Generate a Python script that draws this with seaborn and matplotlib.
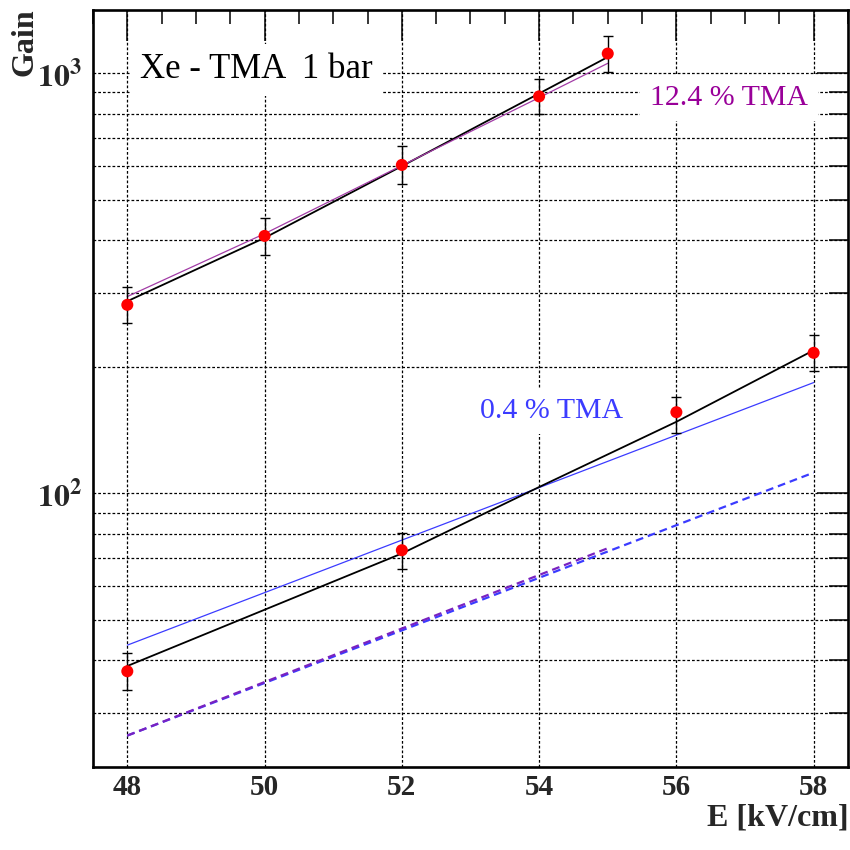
import numpy as np
import pandas as pd
import matplotlib
matplotlib.use("Agg")
import matplotlib.pyplot as plt
from matplotlib.ticker import FuncFormatter, LogLocator, MultipleLocator, NullFormatter
import seaborn as sns

# measured gain points, 12.4 % TMA
E_124 = [48, 50, 52, 54, 55]
GAIN_124 = [281, 410, 605, 881, 1114]
GAIN_124_LO = [254, 370, 546, 798, 1005]
GAIN_124_HI = [310, 452, 670, 971, 1225]

# measured gain points, 0.4 % TMA
E_04 = [48, 52, 56, 58]
GAIN_04 = [37.7, 73.2, 156, 216]
GAIN_04_LO = [34.0, 66.0, 139, 195]
GAIN_04_HI = [41.6, 80.5, 170, 238]

# fit / calculation curves, sampled off the figure
FIT_124_E = [48, 50, 52, 54, 55]
FIT_124_BLACK = [286.6, 405.6, 601, 895, 1093]
FIT_124_MAGENTA = [294, 415, 603, 875, 1056]
FIT_04_BLACK_E = [48, 52, 54, 56, 58]
FIT_04_BLACK = [38.8, 71.9, 103.5, 148, 219]
FIT_04_BLUE_E = [48, 58]
FIT_04_BLUE = [43.5, 183.5]
DASH_BLUE_E = [48, 58]
DASH_BLUE = [26.5, 112]
DASH_PURPLE_E = [48, 55]
DASH_PURPLE = [26.5, 74]

MAGENTA = "#a23ca6"
BLUE = "#3b3bff"
PURPLE = "#7a22c0"

sns.set_theme(style="white")
plt.rcParams["font.family"] = ["Liberation Serif", "DejaVu Serif"]
plt.rcParams["mathtext.fontset"] = "stix"

fig, ax = plt.subplots(figsize=(8.5, 8.5), dpi=100)
fig.subplots_adjust(left=0.1094, right=0.9976, bottom=0.0976, top=0.988)


def line(xs, ys, color, lw, dashes=None):
    df = pd.DataFrame({"E": xs, "gain": ys})
    sns.lineplot(data=df, x="E", y="gain", color=color, lw=lw,
                 estimator=None, sort=False, ax=ax, zorder=3)
    ln = ax.lines[-1]
    if dashes is not None:
        ln.set_dashes(dashes)
    return ln


line(DASH_BLUE_E, DASH_BLUE, BLUE, 1.6, dashes=(3.5, 2.2))
line(DASH_PURPLE_E, DASH_PURPLE, PURPLE, 1.6, dashes=(3.5, 2.2))
line(FIT_04_BLUE_E, FIT_04_BLUE, BLUE, 0.9)
line(FIT_04_BLACK_E, FIT_04_BLACK, "black", 1.3)
line(FIT_124_E, FIT_124_BLACK, "black", 1.3)
line(FIT_124_E, FIT_124_MAGENTA, MAGENTA, 0.9)

# data points with error bars
pts = pd.DataFrame({
    "E": E_124 + E_04,
    "gain": GAIN_124 + GAIN_04,
    "lo": GAIN_124_LO + GAIN_04_LO,
    "hi": GAIN_124_HI + GAIN_04_HI,
})
ax.errorbar(pts["E"], pts["gain"],
            yerr=[pts["gain"] - pts["lo"], pts["hi"] - pts["gain"]],
            fmt="none", ecolor="black", elinewidth=1.0, capsize=3.6,
            capthick=1.0, zorder=4)
sns.scatterplot(data=pts, x="E", y="gain", color="red", s=75,
                edgecolor="none", ax=ax, zorder=5)

ax.set_yscale("log")
ax.set_xlim(47.5, 58.5)
ax.set_ylim(22.3, 1413)

ax.xaxis.set_major_locator(MultipleLocator(2))
ax.xaxis.set_minor_locator(MultipleLocator(0.5))
ax.yaxis.set_major_locator(LogLocator(base=10))
ax.yaxis.set_minor_locator(LogLocator(base=10, subs=np.arange(2, 10)))
ax.yaxis.set_minor_formatter(NullFormatter())
ax.yaxis.set_major_formatter(
    FuncFormatter(lambda v, _: r"$\mathbf{10^{%d}}$" % round(np.log10(v))))

ax.grid(True, which="major", axis="x", linestyle=(0, (2.2, 1.6)),
        color="black", lw=0.9)
ax.grid(True, which="both", axis="y", linestyle=(0, (2.2, 1.6)),
        color="black", lw=0.9)
ax.set_axisbelow(True)

ax.tick_params(which="both", direction="in", top=True, right=True,
               color="black", width=1.1)
ax.tick_params(axis="x", which="major", length=22, labelsize=21, pad=5)
ax.tick_params(axis="x", which="minor", length=10)
ax.tick_params(axis="y", which="major", length=22, labelsize=23, pad=8)
ax.tick_params(axis="y", which="minor", length=14)
for lab in ax.get_xticklabels():
    lab.set_fontweight("bold")

for sp in ax.spines.values():
    sp.set_color("black")
    sp.set_linewidth(1.9)

ax.set_xlabel("")
ax.set_ylabel("")

# labels sit above the grid but under the curves
box = dict(facecolor="white", edgecolor="none", pad=7)
ax.text(0.216, 0.910, "Xe - TMA  1 bar", transform=ax.transAxes,
        ha="center", va="baseline", fontsize=25, color="black", bbox=box,
        zorder=2)
ax.text(0.842, 0.8745, "12.4 % TMA", transform=ax.transAxes,
        ha="center", va="baseline", fontsize=21.5, color="#990099", bbox=box,
        zorder=2)
ax.text(0.608, 0.461, "0.4 % TMA", transform=ax.transAxes,
        ha="center", va="baseline", fontsize=21.5, color=BLUE, bbox=box,
        zorder=2)

fig.text(0.029, 0.99, "Gain", rotation=90, ha="center", va="top",
         fontsize=23, fontweight="bold")
fig.text(0.998, 0.029, "E [kV/cm]", ha="right", va="baseline",
         fontsize=23, fontweight="bold")

fig.savefig("out.png", dpi=100)
